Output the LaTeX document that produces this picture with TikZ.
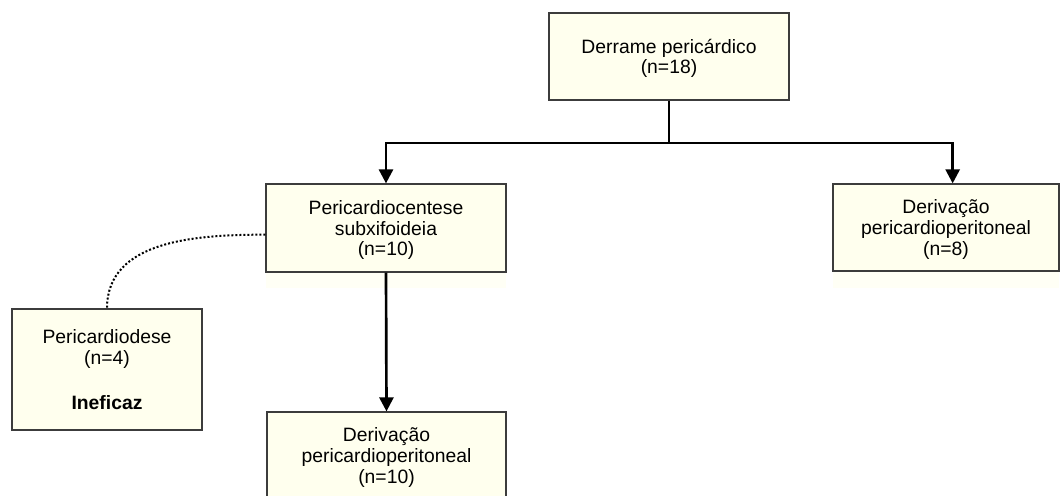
\documentclass[tikz,border=0pt]{standalone}
\usepackage{fontspec}
\setmainfont{Liberation Sans}
\usetikzlibrary{arrows.meta}
\definecolor{boxfill}{RGB}{255,255,238}
\definecolor{boxshade}{RGB}{255,255,245}
\definecolor{boxline}{RGB}{60,60,60}

\begin{document}
\begin{tikzpicture}[x=0.75pt, y=-0.75pt, align=center,
		font=\fontsize{14.5}{15.5}\selectfont,
		box/.style={draw=boxline, fill=boxfill, line width=0.9pt, inner sep=0pt, text depth=0pt},
		conn/.style={line width=2pt},
		arr/.style={conn, -{Triangle[width=10.5pt, length=10.5pt]}},
		link/.style={line width=1.5pt, dash pattern=on 1.5pt off 1.5pt}]
		\useasboundingbox (0,0) rectangle (1061,496);
		
		% faint shade under two boxes
		\fill[boxshade] (266,272) rectangle (506,288);
		\fill[boxshade] (833,271) rectangle (1059,288);
		
		\node[box, minimum width=180pt, minimum height=65.25pt] (derrame) at (669,56.5) {Derrame pericárdico\\(n=18)};
		\node[box, minimum width=180pt, minimum height=66pt] (centese) at (386,228) {Pericardiocentese\\subxifoideia\\(n=10)};
		\node[box, minimum width=169.5pt, minimum height=65.25pt] (derivA) at (946,227.5) {Derivação\\pericardioperitoneal\\(n=8)};
		\node[box, minimum width=142.5pt, minimum height=90.75pt] (pdese) at (107,369.5) {Pericardiodese\\(n=4)\\[18pt]\textbf{Ineficaz}};
		\node[box, minimum width=179.25pt, minimum height=65.25pt] (derivB) at (386.5,455.5) {Derivação\\pericardioperitoneal\\(n=10)};
		
		\coordinate (split) at (669,143);
		\draw[conn] (derrame.south) -- (split);
		\draw[arr] (split) -| (centese.north);
		\draw[arr] (split) -| ([xshift=5pt]derivA.north);
		\draw[arr] (centese.south) -- (derivB.north);
		\draw[link] ([yshift=-5pt]centese.west) to[out=180, in=90] (pdese.north);
	\end{tikzpicture}
\end{document}
